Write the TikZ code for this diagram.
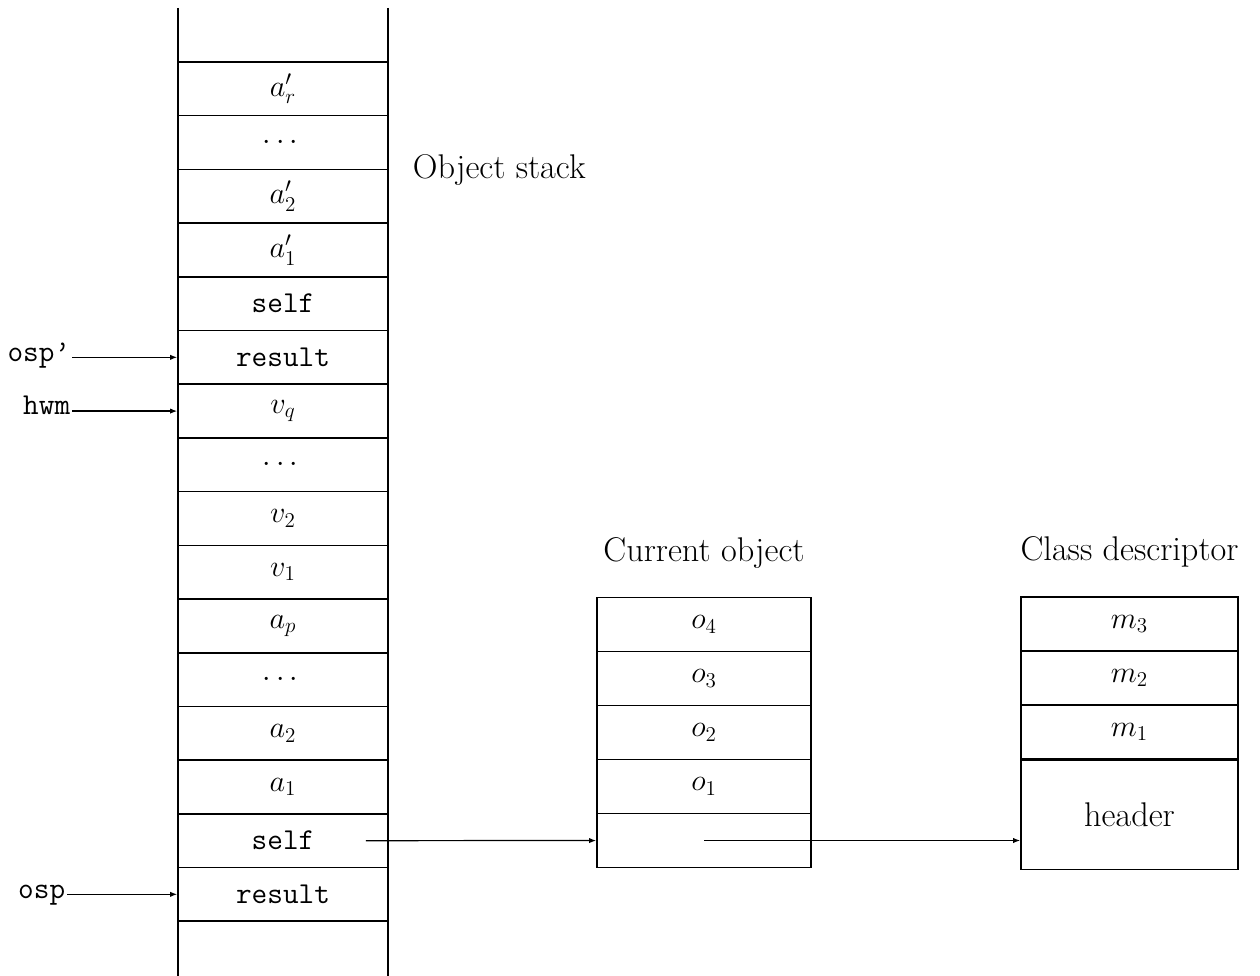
\documentclass[tikz,border=0pt]{standalone}
\usepackage{amsmath}
\usetikzlibrary{arrows.meta,positioning}

\tikzset{
  cell/.style={draw, line width=0.9pt, minimum width=4.2cm, minimum height=1.074cm, inner sep=0pt},
  objcell/.style={cell, minimum width=4.28cm, minimum height=1.08cm},
  clscell/.style={cell, minimum width=4.34cm, minimum height=1.08cm},
  wall/.style={line width=1.1pt},
  ptr/.style={line width=0.7pt, -{Latex[length=4pt,width=3pt]}},
  ptrlabel/.style={inner sep=1pt, text height=1ex, text depth=0pt},
  title/.style={font=\fontsize{19.5}{23}\selectfont}
}

\begin{document}
\begin{tikzpicture}[x=0.02cm, y=-0.02cm, font=\LARGE]
  \useasboundingbox (0,0) rectangle (1260,976);
  \foreach \i/\t in {0/{$a'_r$}, 1/{$\cdots$}, 2/{$a'_2$}, 3/{$a'_1$}, 4/{\texttt{self}}, 5/{\texttt{result}},
                     6/{$v_q$}, 7/{$\cdots$}, 8/{$v_2$}, 9/{$v_1$}, 10/{$a_p$}, 11/{$\cdots$},
                     12/{$a_2$}, 13/{$a_1$}, 14/{\texttt{self}}, 15/{\texttt{result}}}
    \node[cell] (s\i) at (283,{88.85+53.7*\i}) {\t};
  \draw[wall] (178,8) -- (178,976);
  \draw[wall] (388,8) -- (388,976);
  \node[title, right=0.36cm of s1.south east] (stacklbl) {Object stack};

  \node[ptrlabel, left=2.1cm of s5.west] (ospp) {\texttt{osp\textquoteright}};
  \node[ptrlabel, left=2.1cm of s6.west] (hwm) {\texttt{hwm}};
  \node[ptrlabel, left=2.2cm of s15.west] (osp) {\texttt{osp}};
  \draw[ptr] (ospp) -- (s5);
  \draw[ptr] (hwm) -- (s6);
  \draw[ptr] (osp) -- (s15);

  \foreach \i/\t in {4/{$o_4$}, 3/{$o_3$}, 2/{$o_2$}, 1/{$o_1$}, 0/{}}
    \node[objcell] (o\i) at (704,{840.5-54*\i}) {\t};
  \node[title, above=0.45cm of o4] (objlbl) {Current object};

  \foreach \i/\t in {3/{$m_3$}, 2/{$m_2$}, 1/{$m_1$}}
    \node[clscell] (m\i) at (1129.5,{786-54*\i}) {\t};
  \node[clscell, title, minimum height=2.18cm, below=0pt of m1] (hdr) {header};
  \node[title, above=0.45cm of m3] (clslbl) {Class descriptor};

  \coordinate (selfref) at ([xshift=-0.46cm]s14.east);
  \draw[ptr] (selfref) -- (o0);
  \draw[ptr] (o0.center) -- (o0.center -| hdr.west);
\end{tikzpicture}
\end{document}
